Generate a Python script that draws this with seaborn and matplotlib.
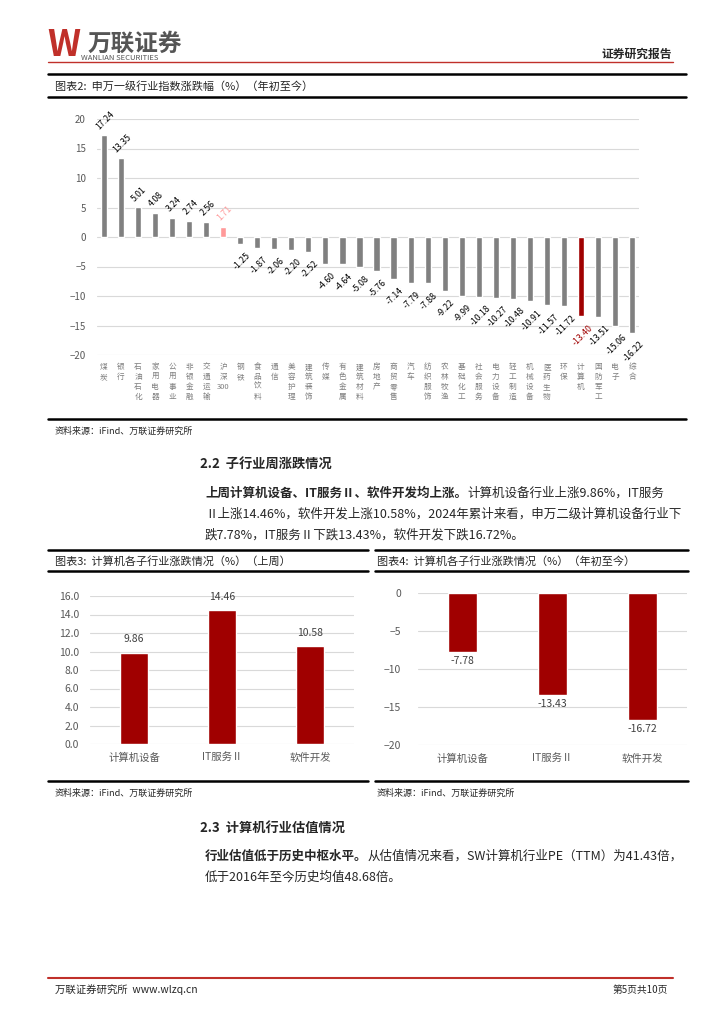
import matplotlib
matplotlib.use("Agg")
import matplotlib.pyplot as plt
import seaborn as sns
from matplotlib.lines import Line2D

# --- data ---
industries = ["煤炭", "银行", "石油石化", "家用电器", "公用事业", "非银金融", "交通运输", "沪深300",
              "钢铁", "食品饮料", "通信", "美容护理", "建筑装饰", "传媒", "有色金属", "建筑材料",
              "房地产", "商贸零售", "汽车", "纺织服饰", "农林牧渔", "基础化工", "社会服务", "电力设备",
              "轻工制造", "机械设备", "医药生物", "环保", "计算机", "国防军工", "电子", "综合"]
ytd_change = [17.24, 13.35, 5.01, 4.08, 3.24, 2.74, 2.56, 1.71,
              -1.25, -1.87, -2.06, -2.20, -2.52, -4.60, -4.64, -5.08,
              -5.76, -7.14, -7.79, -7.88, -9.22, -9.99, -10.18, -10.27,
              -10.48, -10.91, -11.57, -11.72, -13.40, -13.51, -15.06, -16.22]

sub_industries = ["计算机设备", "IT服务Ⅱ", "软件开发"]
week_change = [9.86, 14.46, 10.58]
sub_ytd_change = [-7.78, -13.43, -16.72]

# --- page geometry helpers (pixel coords, origin top-left) ---
W, H = 724, 1024
GRAY = "#808080"
PINK = "#ff9999"
RED = "#a00000"


def fx(x):
    return x / W


def fy(y):
    return 1 - y / H


def axbox(x0, y0, x1, y1):
    return [x0 / W, 1 - y1 / H, (x1 - x0) / W, (y1 - y0) / H]


def hline(x0, x1, y, color="black", lw=1.5):
    fig.add_artist(Line2D([fx(x0), fx(x1)], [fy(y), fy(y)],
                          transform=fig.transFigure, color=color, lw=lw))


def txt(x, y, s, **kw):
    kw.setdefault("va", "center")
    return fig.text(fx(x), fy(y), s, **kw)


def rich_line(x, y, bold_part, rest, size=9):
    # bold lead sentence followed by normal text on the same line
    t = txt(x, y, bold_part, fontsize=size, fontweight="bold")
    bb = t.get_window_extent(renderer)
    txt(bb.x1, y, rest, fontsize=size)


sns.set_theme(style="white")
plt.rcParams["font.family"] = ["Noto Sans CJK SC", "DejaVu Sans"]
plt.rcParams["axes.unicode_minus"] = True

fig = plt.figure(figsize=(7.24, 10.24), dpi=100)
renderer = fig.canvas.get_renderer()

# --- header ---
txt(47, 46, "W", fontsize=26, fontweight="bold", fontstyle="italic", color="#c0302a", ha="left")
txt(88, 44, "万联证券", fontsize=17, fontweight="bold", color="#555555", ha="left")
txt(81, 58, "WANLIAN SECURITIES", fontsize=5.5, color="#555555", ha="left")
txt(672, 54, "证券研究报告", fontsize=8.5, fontweight="bold", ha="right")
hline(48, 673, 62, color="#c0302a", lw=1.0)

# --- chart 2 frame ---
hline(48, 686, 74, lw=1.8)
txt(55, 86, "图表2:  申万一级行业指数涨跌幅（%）（年初至今）", fontsize=8, ha="left")
hline(48, 686, 97, lw=1.8)

ax = fig.add_axes(axbox(97, 119, 639, 355))
bar_colors = [GRAY] * len(industries)
bar_colors[industries.index("沪深300")] = PINK
bar_colors[industries.index("计算机")] = RED
sns.barplot(x=industries, y=ytd_change, hue=industries, palette=bar_colors,
            legend=False, width=0.36, ax=ax, saturation=1)
ax.set_ylim(-20, 20)
ax.set_xlim(-0.41, len(industries) - 0.59)
ax.set_yticks(range(-20, 21, 5))
ax.tick_params(axis="y", labelsize=7, colors="#595959", length=0, pad=8)
ax.tick_params(axis="x", length=0, pad=6)
vert_labels = ["\n".join(list(n)) if n != "沪深300" else "沪\n深\n300" for n in industries]
ax.set_xticks(range(len(industries)))
ax.set_xticklabels(vert_labels, fontsize=5.5, color="#7f7f7f", linespacing=1.3, va="top")
ax.yaxis.grid(True, color="#d9d9d9", lw=0.8)
ax.set_axisbelow(True)
sns.despine(ax=ax, left=True, bottom=True)
for i, (v, c) in enumerate(zip(ytd_change, bar_colors)):
    tc = c if c != GRAY else "black"
    if v >= 0:
        ax.annotate(f"{v:.2f}", (i, v), xytext=(1, 3), textcoords="offset points",
                    rotation=45, ha="center", va="bottom", fontsize=6.3, color=tc)
    else:
        ax.annotate(f"{v:.2f}", (i, v), xytext=(1, -5), textcoords="offset points",
                    rotation=45, ha="center", va="top", fontsize=6.3, color=tc)

hline(48, 686, 419, lw=1.8)
txt(55, 431, "资料来源：iFind、万联证券研究所", fontsize=6.5, fontstyle="italic", ha="left")

# --- section 2.2 ---
txt(200, 464, "2.2  子行业周涨跌情况", fontsize=9.5, fontweight="bold", ha="left")
rich_line(205, 493, "上周计算机设备、IT服务Ⅱ、软件开发均上涨。", "计算机设备行业上涨9.86%，IT服务")
txt(205, 514, "Ⅱ上涨14.46%，软件开发上涨10.58%，2024年累计来看，申万二级计算机设备行业下",
    fontsize=9, ha="left")
txt(205, 535, "跌7.78%，IT服务Ⅱ下跌13.43%，软件开发下跌16.72%。", fontsize=9, ha="left")

# --- chart 3 / chart 4 frames ---
hline(48, 368, 550, lw=1.8)
hline(375, 688, 550, lw=1.8)
txt(55, 561, "图表3:  计算机各子行业涨跌情况（%）（上周）", fontsize=8, ha="left")
txt(377, 561, "图表4:  计算机各子行业涨跌情况（%）（年初至今）", fontsize=8, ha="left")
hline(48, 368, 571, lw=1.8)
hline(375, 688, 571, lw=1.8)
hline(48, 368, 781, lw=1.8)
hline(375, 688, 781, lw=1.8)
txt(55, 793, "资料来源：iFind、万联证券研究所", fontsize=6.5, fontstyle="italic", ha="left")
txt(377, 793, "资料来源：iFind、万联证券研究所", fontsize=6.5, fontstyle="italic", ha="left")

# chart 3
ax3 = fig.add_axes(axbox(90, 596, 354, 744))
sns.barplot(x=sub_industries, y=week_change, color=RED, saturation=1, width=0.32, ax=ax3)
ax3.set_ylim(0, 16)
ax3.set_xlim(-0.5, 2.5)
ax3.set_yticks(range(0, 17, 2))
ax3.set_yticklabels([f"{t:.1f}" for t in range(0, 17, 2)])
ax3.tick_params(axis="y", labelsize=7.5, colors="#595959", length=0, pad=8)
ax3.tick_params(axis="x", labelsize=7.5, colors="#595959", length=0, pad=6)
ax3.yaxis.grid(True, color="#d9d9d9", lw=0.8)
ax3.set_axisbelow(True)
sns.despine(ax=ax3, left=True, bottom=True)
for i, v in enumerate(week_change):
    ax3.annotate(f"{v:.2f}", (i, v), xytext=(0, 6), textcoords="offset points",
                 ha="center", va="bottom", fontsize=7.5, color="#404040")

# chart 4
ax4 = fig.add_axes(axbox(418, 593, 687, 745))
sns.barplot(x=sub_industries, y=sub_ytd_change, color=RED, saturation=1, width=0.32, ax=ax4)
ax4.set_ylim(-20, 0)
ax4.set_xlim(-0.5, 2.5)
ax4.set_yticks(range(-20, 1, 5))
ax4.tick_params(axis="y", labelsize=7.5, colors="#595959", length=0, pad=12)
ax4.tick_params(axis="x", labelsize=7.5, colors="#595959", length=0, pad=6)
ax4.yaxis.grid(True, color="#d9d9d9", lw=0.8)
ax4.set_axisbelow(True)
sns.despine(ax=ax4, left=True, bottom=True)
for i, v in enumerate(sub_ytd_change):
    ax4.annotate(f"{v:.2f}", (i, v), xytext=(0, -3), textcoords="offset points",
                 ha="center", va="top", fontsize=7.5, color="#404040")

# --- section 2.3 ---
txt(200, 828, "2.3  计算机行业估值情况", fontsize=9.5, fontweight="bold", ha="left")
rich_line(205, 856, "行业估值低于历史中枢水平。", "从估值情况来看，SW计算机行业PE（TTM）为41.43倍，")
txt(205, 877, "低于2016年至今历史均值48.68倍。", fontsize=9, ha="left")

# --- footer ---
hline(48, 673, 978, color="#c0302a", lw=1.5)
txt(55, 990, "万联证券研究所  www.wlzq.cn", fontsize=7.5, ha="left")
txt(668, 990, "第5页共10页", fontsize=7, ha="right")

fig.savefig("out.png", dpi=100)
